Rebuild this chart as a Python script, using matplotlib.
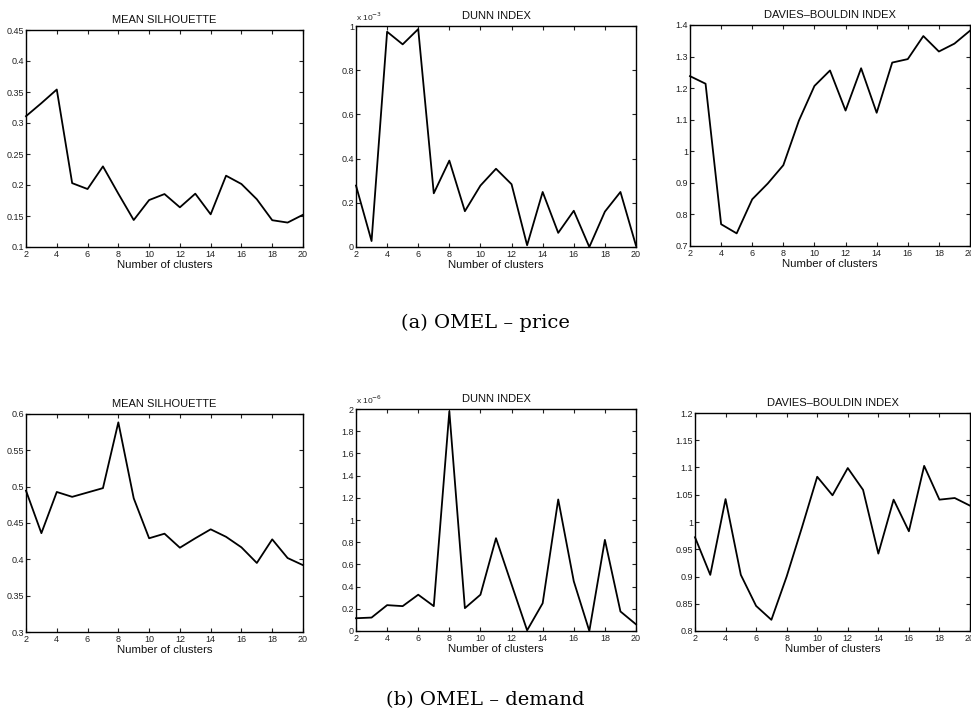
import matplotlib
matplotlib.use("Agg")
import matplotlib.pyplot as plt
from matplotlib.ticker import FuncFormatter, MultipleLocator
import numpy as np

plt.rcParams['font.family'] = ['Liberation Sans', 'DejaVu Sans']

# ---------------- data ----------------
clusters = list(range(2, 21))

price_silhouette = [0.311, 0.332, 0.354, 0.203, 0.1935, 0.230, 0.186, 0.1435, 0.1757,
                    0.1854, 0.164, 0.186, 0.1527, 0.215, 0.2016, 0.177, 0.1432, 0.1394, 0.152]
# Dunn index (price), in units of 1e-3
price_dunn = [0.278, 0.027, 0.974, 0.917, 0.986, 0.243, 0.391, 0.162, 0.278,
              0.354, 0.284, 0.008, 0.249, 0.064, 0.164, 0.0, 0.160, 0.249, 0.006]
price_db = [1.238, 1.214, 0.769, 0.740, 0.848, 0.898, 0.956, 1.097, 1.207,
            1.256, 1.129, 1.263, 1.122, 1.281, 1.292, 1.365, 1.316, 1.341, 1.382]

demand_silhouette = [0.4945, 0.436, 0.4927, 0.486, 0.492, 0.498, 0.5885, 0.484, 0.429,
                     0.4353, 0.416, 0.429, 0.4413, 0.431, 0.4165, 0.395, 0.4275, 0.4018, 0.392]
# Dunn index (demand), in units of 1e-6
demand_dunn = [0.115, 0.121, 0.233, 0.224, 0.327, 0.224, 1.979, 0.206, 0.327,
               0.836, 0.42, 0.006, 0.250, 1.185, 0.448, 0.0, 0.821, 0.176, 0.060]
demand_db = [0.972, 0.903, 1.042, 0.903, 0.846, 0.8205, 0.900, 0.990, 1.083,
             1.049, 1.099, 1.059, 0.942, 1.041, 0.983, 1.103, 1.041, 1.044, 1.030]

titles = ["MEAN SILHOUETTE", "DUNN INDEX", "DAVIES\u2013BOULDIN INDEX"]
xlabel = "Number of clusters"
captions = ["(a) OMEL \u2013 price", "(b) OMEL \u2013 demand"]
exponents = [r"x 10$^{-3}$", r"x 10$^{-6}$"]
xticks = list(range(2, 21, 2))

# ---------------- layout ----------------
W, H = 971, 718
fig = plt.figure(figsize=(W / 100, H / 100), dpi=100)


def add_ax(left, right, top, bottom):
    return fig.add_axes([left / W, 1 - bottom / H, (right - left) / W, (bottom - top) / H])


boxes = [
    [(26, 303, 30, 247), (356, 636, 26, 247), (690, 970, 25, 246)],
    [(26, 303, 414, 632), (356, 636, 409, 631), (695, 970, 413, 631)],
]
series = [
    [price_silhouette, price_dunn, price_db],
    [demand_silhouette, demand_dunn, demand_db],
]
ylims = [
    [(0.1, 0.45, 0.05), (0, 1, 0.2), (0.7, 1.4, 0.1)],
    [(0.3, 0.6, 0.05), (0, 2, 0.2), (0.8, 1.2, 0.05)],
]

fmt = FuncFormatter(lambda v, p: ("%g" % round(v, 4)))

for r in range(2):
    for c in range(3):
        ax = add_ax(*boxes[r][c])
        ax.plot(clusters, series[r][c], color='black', lw=1.3, clip_on=False)
        ax.set_xlim(2, 20)
        lo, hi, step = ylims[r][c]
        ax.set_ylim(lo, hi)
        ax.set_xticks(xticks)
        ax.yaxis.set_major_locator(MultipleLocator(step))
        ax.yaxis.set_major_formatter(fmt)
        ax.tick_params(direction='in', top=True, right=True, length=3, width=0.8,
                       labelsize=6.5, colors='#222222')
        ax.tick_params(axis='x', pad=2.2)
        ax.tick_params(axis='y', pad=1.5)
        for s in ax.spines.values():
            s.set_linewidth(1.0)
        ax.set_title(titles[c], fontsize=8, pad=5, color='#111111')
        ax.set_xlabel(xlabel, fontsize=8.2, labelpad=0.5, color='#111111')
        if c == 1:
            ax.text(0.0, 1.015, exponents[r], transform=ax.transAxes, fontsize=6,
                    ha='left', va='bottom', color='#222222')

fig.text(485 / W, 1 - 323 / H, captions[0], fontsize=14, ha='center', va='center',
         family=['DejaVu Serif'])
fig.text(485 / W, 1 - 700 / H, captions[1], fontsize=14, ha='center', va='center',
         family=['DejaVu Serif'])

fig.savefig("out.png", dpi=100)
